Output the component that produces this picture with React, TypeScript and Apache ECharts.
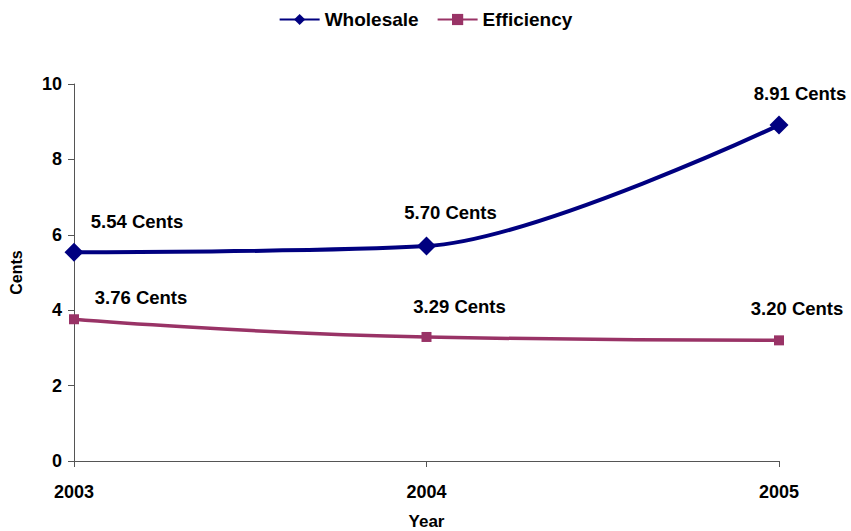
import React, { useEffect, useRef } from "react";
import * as echarts from "echarts";

const years = ["2003", "2004", "2005"];
const wholesale = [5.54, 5.7, 8.91];
const efficiency = [3.76, 3.29, 3.2];
const seriesNames = ["Wholesale", "Efficiency"];

const FONT = "'Liberation Sans', Arial, sans-serif";

export default function App() {
  const ref = useRef<HTMLDivElement>(null);
  useEffect(() => {
    if (!ref.current) return;
    const chart = echarts.init(ref.current, undefined, { renderer: "svg" });
    const wOff = [[63, -31], [24, -34], [21, -32]];
    const eOff = [[67, -22], [33, -30], [18, -32]];
    const labelBase = {
      show: true,
      position: "inside",
      color: "#000",
      fontFamily: FONT,
      fontWeight: "bold",
      fontSize: 18.5,
      formatter: (p: any) => `${Number(p.value).toFixed(2)} Cents`,
    };
    const mk = (vals: number[], offs: number[][]) =>
      vals.map((v, i) => ({ value: v, label: { ...labelBase, offset: offs[i] } }));
    chart.setOption({
      animation: false,
      textStyle: { fontFamily: FONT },
      legend: {
        top: 5,
        left: "center",
        itemWidth: 40,
        itemHeight: 14,
        itemGap: 18,
        textStyle: { fontFamily: FONT, fontWeight: "bold", fontSize: 19, color: "#000" },
        data: seriesNames,
      },
      grid: { left: 74, right: 72, top: 84, bottom: 70, containLabel: false, outerBoundsMode: "none" },
      xAxis: {
        type: "category",
        data: years,
        boundaryGap: false,
        name: "Year",
        nameLocation: "middle",
        nameGap: 52,
        nameTextStyle: { fontFamily: FONT, fontWeight: "bold", fontSize: 17, color: "#000" },
        axisLine: { lineStyle: { color: "#555", width: 1 } },
        axisTick: { show: true, length: 6, lineStyle: { color: "#555" } },
        axisLabel: { margin: 22, fontFamily: FONT, fontWeight: "bold", fontSize: 18, color: "#000" },
        splitLine: { show: false },
      },
      yAxis: {
        type: "value",
        min: 0,
        max: 10,
        interval: 2,
        name: "Cents",
        nameLocation: "middle",
        nameGap: 50,
        nameRotate: 90,
        nameTextStyle: { fontFamily: FONT, fontWeight: "bold", fontSize: 16, color: "#000" },
        axisLine: { show: true, lineStyle: { color: "#555", width: 1 } },
        axisTick: { show: true, length: 6, lineStyle: { color: "#555" } },
        axisLabel: { margin: 12, fontFamily: FONT, fontWeight: "bold", fontSize: 18, color: "#000" },
        splitLine: { show: false },
      },
      series: [
        {
          name: seriesNames[0],
          type: "line",
          smooth: 0.3,
          data: mk(wholesale, wOff),
          symbol: "diamond",
          symbolSize: 19,
          lineStyle: { color: "#000080", width: 4 },
          itemStyle: { color: "#000080" },
          z: 3,
        },
        {
          name: seriesNames[1],
          type: "line",
          smooth: 0.5,
          data: mk(efficiency, eOff),
          symbol: "rect",
          symbolSize: 10,
          lineStyle: { color: "#993366", width: 3.5 },
          itemStyle: { color: "#993366" },
          z: 2,
        },
      ],
    });
    return () => chart.dispose();
  }, []);
  return <div ref={ref} style={{ width: 851, height: 531, position: "absolute", left: 0, top: 0 }} />;
}
